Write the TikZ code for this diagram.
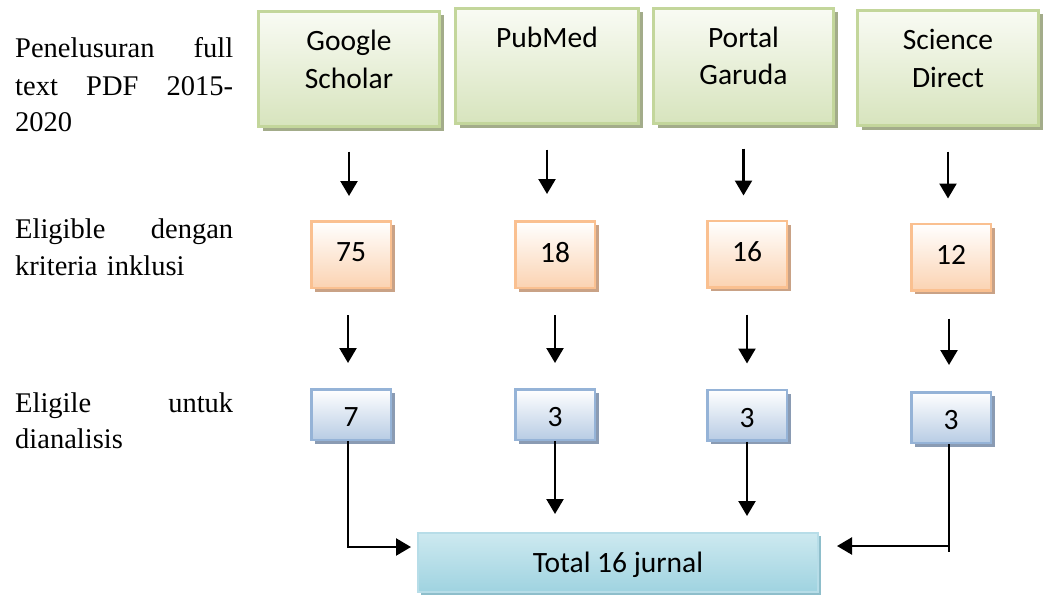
\documentclass[tikz,border=0pt]{standalone}
\usepackage{fontspec}
\setmainfont{Liberation Serif}
\newfontfamily\calibrifont{Carlito}
\usetikzlibrary{arrows.meta,shadows}
\definecolor{gbord}{HTML}{C3D69B}
\definecolor{gtop}{HTML}{F9FBF4}
\definecolor{gbot}{HTML}{D7E4BD}
\definecolor{gshad}{HTML}{A3AC8A}
\definecolor{obord}{HTML}{FAC090}
\definecolor{obot}{HTML}{FBD3B2}
\definecolor{oshad}{HTML}{C9A286}
\definecolor{bbord}{HTML}{95B3D7}
\definecolor{bbot}{HTML}{B8CCE4}
\definecolor{bshad}{HTML}{8A9BB3}
\definecolor{tbord}{HTML}{B7DDE8}
\definecolor{ttop}{HTML}{CDE9F0}
\definecolor{tmid}{HTML}{DDF0F5}
\definecolor{tbot}{HTML}{9FD3E0}
\definecolor{tshad}{HTML}{8EBECB}
\newcommand{\topbox}[3]{\parbox[c][115pt][t]{#1}{\centering\rule{0pt}{39.5pt}#3}}
\tikzset{
  src/.style={draw=gbord, line width=3pt, top color=gtop, bottom color=gbot, inner sep=0pt,
    drop shadow={shadow xshift=4pt, shadow yshift=-4pt, fill=gshad, opacity=1},
    font=\fontsize{29.5}{37}\selectfont\calibrifont},
  elig/.style={draw=obord, line width=2.5pt, top color=white, bottom color=obot, inner sep=0pt,
    minimum width=79.5pt, minimum height=66.5pt, text depth=4pt,
    drop shadow={shadow xshift=4pt, shadow yshift=-4pt, fill=oshad, opacity=1},
    font=\fontsize{29.5}{37}\selectfont\calibrifont},
  anal/.style={draw=bbord, line width=2.5pt, top color=white, bottom color=bbot, inner sep=0pt,
    minimum width=79.5pt, minimum height=50.5pt, text height=24pt, text depth=0pt,
    drop shadow={shadow xshift=4pt, shadow yshift=-4pt, fill=bshad, opacity=1},
    font=\fontsize{29.5}{37}\selectfont\calibrifont},
  total/.style={draw=tbord, line width=2pt, top color=ttop, middle color=tmid, bottom color=tbot, inner sep=0pt,
    minimum width=400pt, minimum height=59pt, text depth=0pt,
    drop shadow={shadow xshift=3pt, shadow yshift=-3pt, fill=tshad, opacity=1},
    font=\fontsize{29.5}{37}\selectfont\calibrifont},
  lbl/.style={anchor=base west, inner sep=0pt, text width=218pt,
    font=\fontsize{28.5}{36}\selectfont},
  arr/.style={line width=2.4pt, -{Triangle[width=17pt,length=15pt]}},
  conn/.style={line width=2.4pt},
}
\begin{document}
\begin{tikzpicture}[x=1pt,y=1pt]
\useasboundingbox (0,0) rectangle (1043,-594);
% left labels
\node[lbl] (l1a) at (15,-58) {Penelusuran\hfill full};
\node[lbl] (l1b) at (15,-95) {text\hfill PDF\hfill 2015-};
\node[lbl] (l1c) at (15,-131) {2020\hfill\null};
\node[lbl] (l2a) at (15,-238) {Eligible\hfill dengan};
\node[lbl] (l2b) at (15,-275) {kriteria inklusi\hfill\null};
\node[lbl] (l3a) at (15,-412) {Eligile\hfill untuk};
\node[lbl] (l3b) at (15,-448) {dianalisis\hfill\null};
% sources
\node[src] (gs) at (349,-69) {\topbox{181pt}{}{Google\\Scholar}};
\node[src] (pm) at (547,-66) {\topbox{183pt}{}{PubMed}};
\node[src] (pg) at (743.5,-66) {\topbox{180pt}{}{Portal\\Garuda}};
\node[src] (sd) at (948,-68) {\topbox{181pt}{}{Science\\Direct}};
% eligible
\node[elig] (o1) at (351,-254.5) {75};
\node[elig] (o2) at (555,-254.5) {18};
\node[elig] (o3) at (747,-254) {16};
\node[elig] (o4) at (951,-257) {12};
% analysed
\node[anal] (b1) at (351,-414.5) {7};
\node[anal] (b2) at (555,-414.5) {3};
\node[anal] (b3) at (747,-415) {3};
\node[anal] (b4) at (951,-417.5) {3};
% total
\node[total] (tot) at (618,-562.5) {Total 16 jurnal};
% arrows row 1
\draw[arr, shorten <=23.5pt, shorten >=24pt] (gs.south) -- (gs.south |- o1.north);
\draw[arr, shorten <=24.5pt, shorten >=26pt] (pm.south) -- (pm.south |- o2.north);
\draw[arr, shorten <=23.5pt, shorten >=24pt] (pg.south) -- (pg.south |- o3.north);
\draw[arr, shorten <=24.5pt, shorten >=24pt] (sd.south) -- (sd.south |- o4.north);
% arrows row 2
\draw[arr, shorten <=26pt, shorten >=25pt] ([xshift=-3pt]o1.south) -- ([xshift=-3pt]o1.south |- b1.north);
\draw[arr, shorten <=26pt, shorten >=25pt] (o2.south) -- (o2.south |- b2.north);
\draw[arr, shorten <=26pt, shorten >=25pt] (o3.south) -- (o3.south |- b3.north);
\draw[arr, shorten <=27pt, shorten >=26pt] ([xshift=-2pt]o4.south) -- ([xshift=-2pt]o4.south |- b4.north);
% to total
\draw[arr, shorten >=18pt] (b2.south) -- (b2.south |- tot.north);
\draw[arr, shorten >=16pt] (b3.south) -- (b3.south |- tot.north);
\draw[arr] ([xshift=-3pt]b1.south) |- ([xshift=-6pt,yshift=15.5pt]tot.west);
\path ([xshift=-2pt]b4.south) coordinate (r0);
\coordinate (r1) at (r0 |- tot.east);
\draw[conn] (r0) -- ([yshift=10.5pt]r1);
\draw[arr] ([yshift=16.5pt]r1) -- ([xshift=18pt,yshift=16.5pt]tot.east);
\end{tikzpicture}
\end{document}
